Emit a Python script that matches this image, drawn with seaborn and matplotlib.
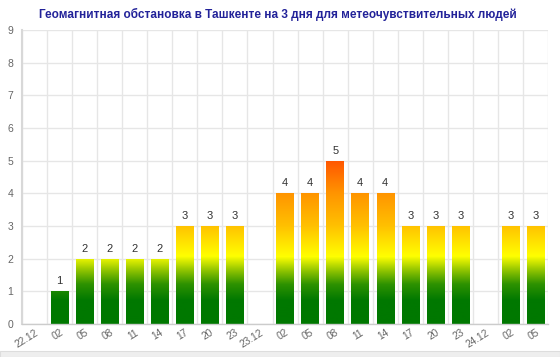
import numpy as np
import pandas as pd
import matplotlib
matplotlib.use("Agg")
import matplotlib.pyplot as plt
from matplotlib.colors import LinearSegmentedColormap
from matplotlib.patches import Rectangle
import seaborn as sns

title = "Геомагнитная обстановка в Ташкенте на 3 дня для метеочувствительных людей"
hours = ["22.12", "02", "05", "08", "11", "14", "17", "20", "23",
         "23.12", "02", "05", "08", "11", "14", "17", "20", "23",
         "24.12", "02", "05"]
kp = [0, 1, 2, 2, 2, 2, 3, 3, 3,
      0, 4, 4, 5, 4, 4, 3, 3, 3,
      0, 3, 3]

sns.set_theme(style="white")
plt.rcParams["font.family"] = ["Liberation Sans", "DejaVu Sans"]

fig = plt.figure(figsize=(5.6, 3.57), dpi=100)
ax = fig.add_axes([0.039, 0.0924, 0.94, 0.8236])

df = pd.DataFrame({"pos": np.arange(len(kp)), "kp": kp})
sns.barplot(data=df, x="pos", y="kp", width=0.7, ax=ax, color="white")

ymax = 9
# colour depends on the level, not on the bar
stops = [(0.0, "#007800"), (0.7 / ymax, "#007800"), (1.2 / ymax, "#2e9200"),
         (1.6 / ymax, "#8cc200"), (2.05 / ymax, "#ffff00"), (3.0 / ymax, "#ffc000"),
         (4.0 / ymax, "#ff9400"), (5.0 / ymax, "#ff5500"), (1.0, "#ff2000")]
cmap = LinearSegmentedColormap.from_list("kp", stops)
grad = np.linspace(0, 1, 512).reshape(-1, 1)

for bar, v in zip(ax.patches, kp):
    bar.set_facecolor("none")
    bar.set_edgecolor("none")
    if v == 0:
        continue
    im = ax.imshow(grad, cmap=cmap, aspect="auto", origin="lower",
                   extent=[-0.5, len(kp) - 0.5, 0, ymax], zorder=2)
    im.set_clip_path(bar)
    ax.text(bar.get_x() + bar.get_width() / 2, v + 0.15, str(v),
            ha="center", va="bottom", fontsize=8, color="#333333", zorder=3)

ax.set_xlim(-0.5, len(kp) - 0.5)
ax.set_ylim(0, ymax)
ax.set_yticks(range(0, ymax + 1))
ax.set_xticks(range(len(kp)))
ax.set_xticklabels(hours, rotation=32, ha="right", rotation_mode="anchor")
ax.set_xticks(np.arange(len(kp) + 1) - 0.5, minor=True)
ax.tick_params(axis="x", which="major", length=0, pad=2.5, labelsize=7.3, labelcolor="#666666")
ax.tick_params(axis="x", which="minor", length=5, color="#e6e6e6", width=1)
ax.tick_params(axis="y", length=4, color="#cccccc", labelsize=7.5, labelcolor="#666666", pad=2)
ax.grid(axis="y", color="#e6e6e6", lw=1, zorder=0)
ax.grid(axis="x", which="minor", color="#e6e6e6", lw=1, zorder=0)
ax.set_axisbelow(True)
ax.set_xlabel("")
ax.set_ylabel("")
for s in ["top", "right"]:
    ax.spines[s].set_visible(False)
ax.spines["left"].set_color("#d8d8d8")
ax.spines["left"].set_linewidth(1.5)
ax.spines["bottom"].set_color("#cccccc")
ax.spines["bottom"].set_linewidth(1)

fig.text(0.497, 0.978, title, ha="center", va="top", fontsize=8.5,
         fontweight="bold", color="#222299")
fig.patches.append(Rectangle((0, 0), 1, 6 / 357, transform=fig.transFigure,
                             facecolor="#eeeeee", edgecolor="#dddddd", lw=0.8))

fig.savefig("out.png", dpi=100)
